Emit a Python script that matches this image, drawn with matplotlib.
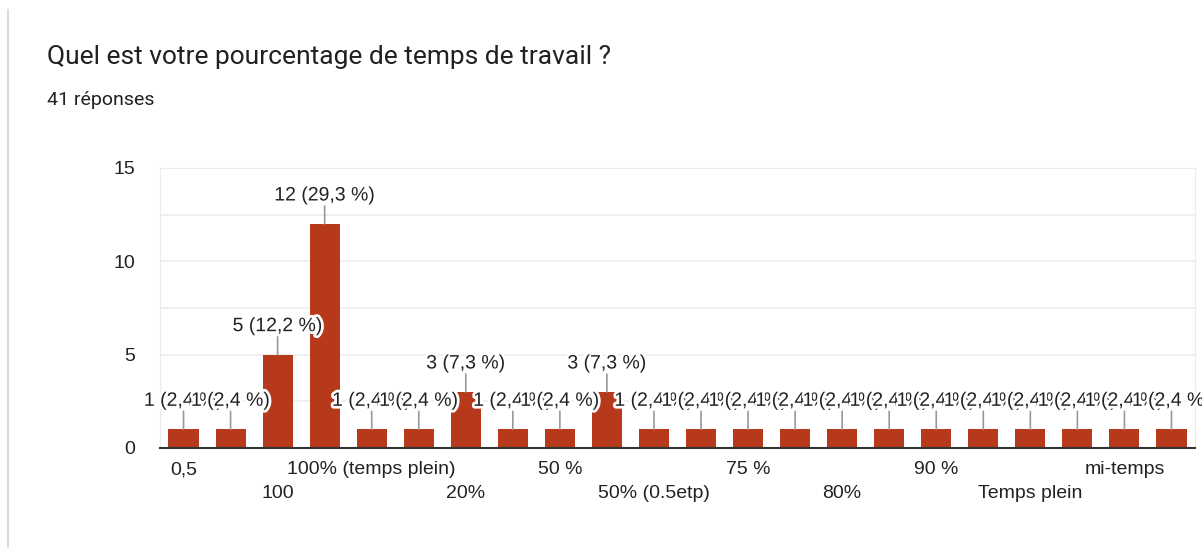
import matplotlib
matplotlib.use("Agg")
import matplotlib.pyplot as plt
import matplotlib.patheffects as pe
from matplotlib.lines import Line2D

# Survey answers: number of responses per category
counts = [1, 1, 5, 12, 1, 1, 3, 1, 1, 3, 1, 1, 1, 1, 1, 1, 1, 1, 1, 1, 1, 1]
# Only every other category name fits on the axis
tick_labels = ["0,5", "", "100", "", "100% (temps plein)", "", "20%", "",
               "50 %", "", "50% (0.5etp)", "", "75 %", "", "80%", "",
               "90 %", "", "Temps plein", "", "mi-temps", ""]
y_ticks = [0, 5, 10, 15]

title = "Quel est votre pourcentage de temps de travail ?"
total = sum(counts)
subtitle = f"{total} réponses"

BAR = "#b5391a"
TXT = "#222222"
FONT = "Liberation Sans"

W, H, DPI = 1202, 548, 100
fig = plt.figure(figsize=(W / DPI, H / DPI), dpi=DPI)
fig.patch.set_facecolor("white")

# card edge on the left
fig.add_artist(Line2D([8 / W, 8 / W], [0, 1 - 10 / H], color="#dadce0",
                      lw=1.5, transform=fig.transFigure))

fig.text(47 / W, 1 - 57 / H, title, family="Roboto", fontsize=19,
         color="#202124", va="center", ha="left")
fig.text(47 / W, 1 - 100 / H, subtitle, family="Roboto", fontsize=14,
         color="#202124", va="center", ha="left")

ax = fig.add_axes([160 / W, (H - 448) / H, 1035 / W, 280 / H])
x = list(range(len(counts)))
ax.bar(x, counts, width=0.64, color=BAR, zorder=3)
ax.set_xlim(-0.5, len(counts) - 0.5)
ax.set_ylim(0, 15)

ax.set_yticks(y_ticks)
ax.set_yticklabels([str(v) for v in y_ticks], family=FONT, fontsize=14,
                   color=TXT)
ax.set_yticks([2.5, 7.5, 12.5], minor=True)
ax.tick_params(axis="y", which="both", length=0, pad=18)
ax.grid(axis="y", which="both", color="#ececec", lw=1.2, zorder=0)

ax.set_xticks([])
for s in ("left", "right", "top"):
    ax.spines[s].set_color("#ececec")
ax.spines["bottom"].set_color("#333333")
ax.spines["bottom"].set_linewidth(1.5)
ax.spines["bottom"].set_zorder(5)

# staggered category names below the axis
shown = [i for i, t in enumerate(tick_labels) if t]
for k, i in enumerate(shown):
    dy = -22 if k % 2 == 0 else -46
    ax.annotate(tick_labels[i], xy=(i, 0), xycoords=("data", "axes fraction"),
                xytext=(0, dy), textcoords="offset pixels", ha="center",
                va="center", family=FONT, fontsize=14, color=TXT,
                annotation_clip=False)

# value labels with leader lines
for i, v in enumerate(counts):
    pct = f"{100 * v / total:.1f}".replace(".", ",")
    ax.annotate("", xy=(i, v), xytext=(0, 18), textcoords="offset pixels",
                xycoords="data",
                arrowprops=dict(arrowstyle="-", color="#999999", lw=1.2,
                                shrinkA=0, shrinkB=0),
                zorder=4)
    ax.annotate(f"{v} ({pct} %)", xy=(i, v), xytext=(0, 28),
                textcoords="offset pixels", ha="center", va="center",
                family=FONT, fontsize=14, color=TXT, zorder=6 + i,
                annotation_clip=False,
                path_effects=[pe.withStroke(linewidth=4, foreground="white")])

fig.savefig("out.png", dpi=DPI, facecolor="white")
